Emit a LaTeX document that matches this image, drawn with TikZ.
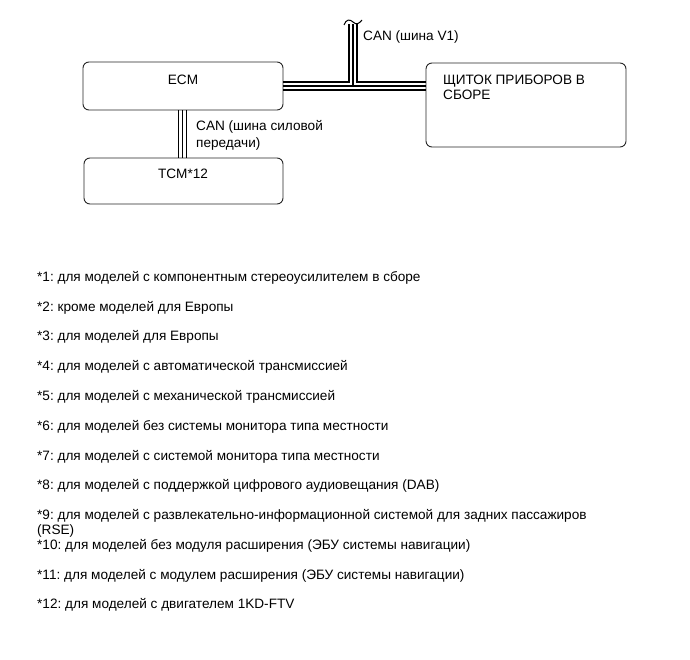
\documentclass[tikz,border=0pt]{standalone}
\usepackage{fontspec}
\setmainfont{Liberation Sans}
\usetikzlibrary{calc}
\frenchspacing
\begin{document}
\begin{tikzpicture}[x=1pt,y=-1pt,
  box/.style={draw=black!85, line width=0.9pt, rounded corners=6pt, inner sep=0pt},
  txt/.style={inner sep=0pt, font=\fontsize{13.6}{15}\selectfont, align=left},
  bus/.style={line width=1.3pt, black}]
\useasboundingbox[fill=white] (0,0) rectangle (690,659);
% boxes
\node[box, minimum width=200pt, minimum height=48pt] (ecm) at (183,86) {};
\node[box, minimum width=200pt, minimum height=84pt] (cl) at (526,105) {};
\node[box, minimum width=199pt, minimum height=46pt] (tcm) at (183.5,181) {};
\node[txt] (ecmt) at (183,80) {ECM};
\node[txt] (tcmt) at (183,173.5) {TCM*12};
\node[txt, anchor=west] (clt) at (443,87) {ЩИТОК ПРИБОРОВ В\\СБОРЕ};
% horizontal bus ECM - cluster with riser
\coordinate (rtop) at (353,24);
\coordinate (hb) at (ecm.east);
\draw[bus] ($(hb)+(0,-4)$) -- ($(rtop |- hb)+(-4,-4)$) -- ($(rtop)+(-4,0)$);
\draw[bus] ($(rtop)+(4,0)$) -- ($(rtop |- hb)+(4,-4)$) -- ($(cl.west |- hb)+(0,-4)$);
\draw[bus] (rtop) -- (rtop |- hb);
\draw[bus] (hb) -- (cl.west |- hb);
\draw[bus] ($(hb)+(0,4)$) -- ($(cl.west |- hb)+(0,4)$);
% wavy break
\draw[line width=1pt] ($(rtop)+(-9,1)$) .. controls ($(rtop)+(-7,-5)$) and ($(rtop)+(-3,-5)$) .. ($(rtop)+(0,-2)$) .. controls ($(rtop)+(3,1)$) and ($(rtop)+(6,0)$) .. ($(rtop)+(9,-4)$);
\node[txt, anchor=west] (canv1) at (363,37) {CAN (шина V1)};
% vertical bus ECM - TCM
\coordinate (vb) at (182.5,0);
\foreach \d in {-4,0,4}
  \draw[bus] ($(vb |- ecm.south)+(\d,0)$) -- ($(vb |- tcm.north)+(\d,0)$);
\node[txt, anchor=west, font=\fontsize{13.6}{17}\selectfont] (canp) at (196,135) {CAN (шина силовой\\передачи)};
% footnotes
\node[txt, anchor=west] (f1) at (37,278) {*1: для моделей с компонентным стереоусилителем в сборе};
\node[txt, anchor=west] (f2) at (37,308) {*2: кроме моделей для Европы};
\node[txt, anchor=west] (f3) at (37,337) {*3: для моделей для Европы};
\node[txt, anchor=west] (f4) at (37,367) {*4: для моделей с автоматической трансмиссией};
\node[txt, anchor=west] (f5) at (37,397) {*5: для моделей с механической трансмиссией};
\node[txt, anchor=west] (f6) at (37,427) {*6: для моделей без системы монитора типа местности};
\node[txt, anchor=west] (f7) at (37,457) {*7: для моделей с системой монитора типа местности};
\node[txt, anchor=west] (f8) at (37,486) {*8: для моделей с поддержкой цифрового аудиовещания (DAB)};
\node[txt, anchor=west] (f9) at (37,523.5) {*9: для моделей с развлекательно-информационной системой для задних пассажиров\\(RSE)};
\node[txt, anchor=west] (f10) at (37,546) {*10: для моделей без модуля расширения (ЭБУ системы навигации)};
\node[txt, anchor=west] (f11) at (37,576) {*11: для моделей с модулем расширения (ЭБУ системы навигации)};
\node[txt, anchor=west] (f12) at (37,605) {*12: для моделей с двигателем 1KD-FTV};
\end{tikzpicture}
\end{document}
